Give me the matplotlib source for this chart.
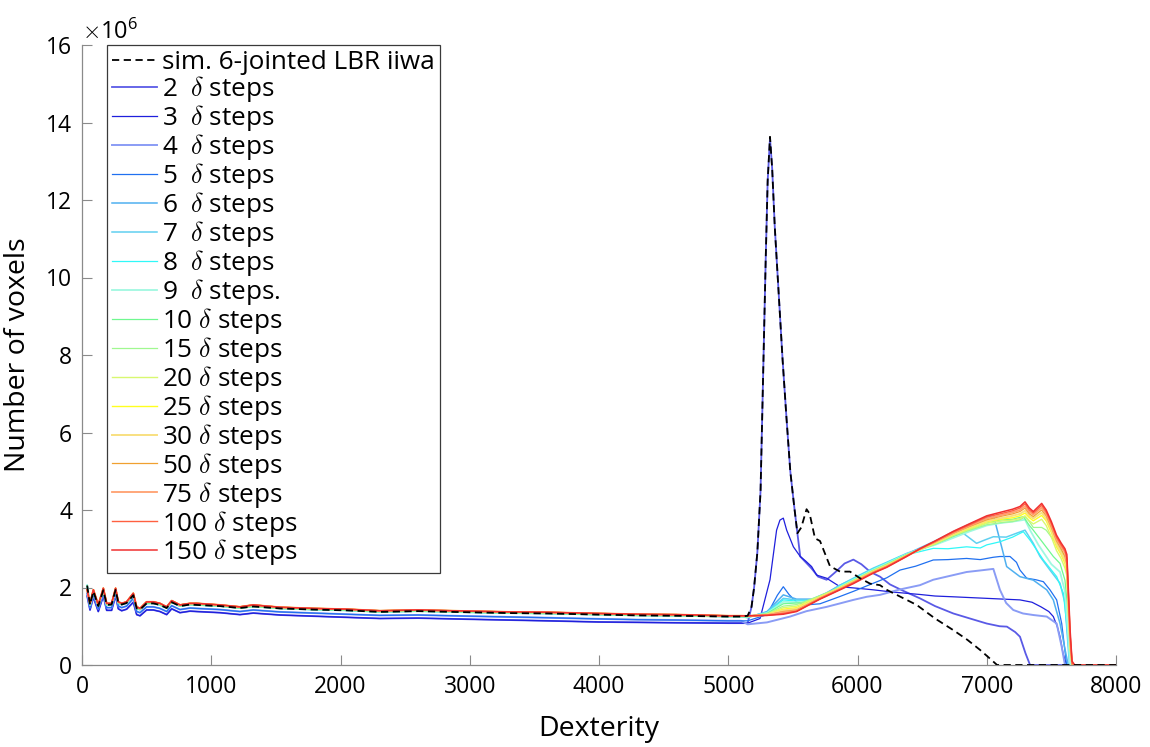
"""
Dexterity histograms: number of voxels per dexterity value for different delta step counts
"""
import numpy as np
import matplotlib.pyplot as plt

plt.rcParams['font.family'] = ['Open Sans', 'DejaVu Sans']
plt.rcParams['mathtext.fontset'] = 'cm'

AXIS_GREY = '#8a8a8a'

## Left part of the curves (dexterity 40 - 5100), shared by groups of curves.  Values in 1e6 voxels
LEFT_X = [40, 62, 88, 126, 165, 191, 229, 260, 281, 307, 345, 397, 423, 449, 500, 552, 603, 655, 694,
          758, 836, 887, 1068, 1222, 1325, 1532, 1790, 2048, 2306, 2600, 3000, 3300, 3600, 4000, 4300,
          4600, 5000, 5100]
LEFT_TOP = [1.94, 1.59, 1.94, 1.55, 1.98, 1.59, 1.59, 1.98, 1.63, 1.59, 1.63, 1.85, 1.50, 1.46, 1.63,
            1.63, 1.59, 1.50, 1.66, 1.55, 1.59, 1.59, 1.55, 1.50, 1.55, 1.49, 1.46, 1.44, 1.40, 1.42,
            1.39, 1.37, 1.36, 1.33, 1.31, 1.30, 1.27, 1.27]
LEFT_MID = [2.05, 1.55, 1.90, 1.52, 1.93, 1.55, 1.56, 1.94, 1.60, 1.56, 1.60, 1.80, 1.46, 1.43, 1.59,
            1.59, 1.55, 1.47, 1.62, 1.52, 1.56, 1.55, 1.52, 1.47, 1.51, 1.46, 1.43, 1.41, 1.37, 1.39,
            1.36, 1.34, 1.33, 1.30, 1.28, 1.27, 1.25, 1.25]
LEFT_LOW = [1.85, 1.48, 1.82, 1.45, 1.85, 1.48, 1.48, 1.85, 1.52, 1.48, 1.52, 1.72, 1.38, 1.35, 1.50,
            1.50, 1.46, 1.38, 1.53, 1.43, 1.47, 1.46, 1.43, 1.38, 1.42, 1.37, 1.34, 1.31, 1.28, 1.29,
            1.26, 1.24, 1.22, 1.19, 1.17, 1.16, 1.14, 1.14]
LEFT_BOTTOM = [1.78, 1.42, 1.75, 1.38, 1.78, 1.41, 1.41, 1.78, 1.45, 1.40, 1.44, 1.62, 1.30, 1.27, 1.42,
               1.42, 1.38, 1.30, 1.45, 1.35, 1.39, 1.38, 1.35, 1.30, 1.34, 1.29, 1.26, 1.23, 1.20, 1.21,
               1.18, 1.16, 1.14, 1.11, 1.10, 1.09, 1.08, 1.08]

## Simulated 6-jointed LBR iiwa (right part)
SIM_X = [5150, 5180, 5200, 5225, 5250, 5270, 5290, 5305, 5323, 5340, 5360, 5390, 5420, 5450, 5480, 5510,
         5535, 5565, 5606, 5630, 5671, 5710, 5787, 5865, 5942, 6019, 6097, 6174, 6226, 6303, 6458, 6600,
         6741, 6850, 6948, 7030, 7080, 7500, 8000]
SIM_Y = [1.27, 1.5, 2.0, 2.9, 4.5, 7.5, 10.5, 12.5, 13.63, 12.8, 11.3, 9.6, 7.9, 6.4, 5.0, 4.1,
         3.4, 3.55, 4.02, 3.9, 3.27, 3.2, 2.55, 2.41, 2.41, 2.24, 2.1, 2.06, 1.94, 1.81, 1.55, 1.2,
         0.9, 0.65, 0.39, 0.15, 0.0, 0.0, 0.0]

## Right parts of the delta step curves
X2 = [5150, 5180, 5200, 5225, 5250, 5270, 5290, 5305, 5323, 5340, 5360, 5390, 5420, 5450, 5480, 5510,
      5535, 5557, 5594, 5645, 5695, 5761, 5830, 5900, 5968, 6030, 6100, 6174, 6251, 6350, 6483, 6600,
      6741, 6870, 7000, 7100, 7156, 7220, 7257, 7300, 7335, 8000]
Y2 = [1.08, 1.5, 2.0, 2.9, 4.5, 7.5, 10.5, 12.5, 13.6, 12.8, 11.3, 9.6, 7.9, 6.4, 5.0, 4.1,
      3.4, 2.8, 2.67, 2.49, 2.28, 2.2, 2.4, 2.62, 2.72, 2.6, 2.4, 2.28, 2.08, 1.92, 1.72, 1.52,
      1.33, 1.2, 1.07, 1.0, 0.99, 0.85, 0.73, 0.3, 0.0, 0.0]
X3 = [5150, 5246, 5323, 5374, 5400, 5426, 5452, 5504, 5557, 5600, 5645, 5684, 5761, 5865, 6000, 6122,
      6251, 6380, 6483, 6600, 6741, 6870, 7000, 7130, 7257, 7350, 7420, 7480, 7515, 7545, 7567, 7590,
      7618, 8000]
Y3 = [1.08, 1.2, 2.2, 3.48, 3.74, 3.79, 3.48, 3.05, 2.8, 2.68, 2.54, 2.32, 2.24, 2.02, 1.98, 1.94,
      1.89, 1.85, 1.82, 1.78, 1.76, 1.74, 1.72, 1.70, 1.68, 1.62, 1.5, 1.38, 1.25, 1.0, 0.73, 0.3,
      0.0, 0.0]
X4 = [5150, 5300, 5478, 5606, 5761, 5865, 5968, 6071, 6174, 6329, 6483, 6586, 6741, 6844, 6950, 7051,
      7102, 7150, 7205, 7280, 7360, 7464, 7541, 7580, 7605, 8000]
Y4 = [1.05, 1.1, 1.25, 1.39, 1.5, 1.59, 1.68, 1.76, 1.81, 1.95, 2.06, 2.2, 2.32, 2.4, 2.44, 2.48,
      1.94, 1.6, 1.42, 1.33, 1.29, 1.25, 1.07, 0.47, 0.0, 0.0]
X5 = [5150, 5300, 5380, 5426, 5470, 5530, 5600, 5710, 5850, 5968, 6100, 6226, 6329, 6450, 6586, 6700,
      6844, 6950, 7050, 7102, 7180, 7230, 7257, 7309, 7380, 7438, 7489, 7541, 7580, 7618, 8000]
Y5 = [1.14, 1.3, 1.8, 2.02, 1.82, 1.62, 1.55, 1.58, 1.75, 1.9, 2.08, 2.25, 2.45, 2.55, 2.71, 2.72,
      2.75, 2.72, 2.78, 2.8, 2.8, 2.65, 2.45, 2.24, 2.2, 2.15, 1.94, 1.68, 1.07, 0.0, 0.0]
X6 = [5150, 5300, 5426, 5529, 5650, 5760, 5865, 5968, 6122, 6226, 6380, 6483, 6600, 6741, 6870, 7000,
      7051, 7115, 7154, 7257, 7360, 7464, 7515, 7567, 7600, 7630, 8000]
Y6 = [1.22, 1.38, 1.81, 1.7, 1.7, 1.86, 2.06, 2.22, 2.48, 2.62, 2.86, 3.02, 3.2, 3.44, 3.64, 3.82,
      3.87, 3.05, 2.54, 2.28, 2.19, 1.94, 1.68, 1.07, 0.5, 0.0, 0.0]
X7 = [5150, 5300, 5426, 5529, 5650, 5760, 5865, 5968, 6122, 6226, 6380, 6483, 6600, 6741, 6818, 6921,
      6980, 7051, 7150, 7230, 7296, 7360, 7412, 7489, 7567, 7605, 7640, 8000]
Y7 = [1.24, 1.36, 1.72, 1.68, 1.68, 1.84, 2.06, 2.24, 2.5, 2.65, 2.88, 3.0, 3.15, 3.33, 3.4, 3.14,
      3.22, 3.31, 3.3, 3.4, 3.48, 3.14, 2.8, 2.45, 2.11, 1.6, 0.0, 0.0]
X8 = [5150, 5300, 5426, 5529, 5650, 5760, 5865, 5968, 6122, 6226, 6329, 6450, 6586, 6700, 6844, 6950,
      7000, 7102, 7200, 7283, 7340, 7438, 7541, 7593, 7620, 7645, 8000]
Y8 = [1.24, 1.35, 1.68, 1.65, 1.66, 1.82, 2.04, 2.22, 2.48, 2.64, 2.8, 2.9, 3.01, 3.0, 3.05, 3.02,
      3.1, 3.18, 3.3, 3.44, 3.2, 2.71, 2.28, 1.85, 1.0, 0.0, 0.0]
X9 = [5150, 5300, 5426, 5529, 5650, 5760, 5865, 5968, 6122, 6226, 6380, 6483, 6600, 6741, 6870, 7000,
      7100, 7200, 7296, 7340, 7400, 7450, 7500, 7567, 7605, 7625, 7645, 8000]
Y9 = [1.24, 1.34, 1.63, 1.62, 1.64, 1.8, 2.02, 2.2, 2.46, 2.62, 2.86, 2.98, 3.1, 3.28, 3.45, 3.6,
      3.66, 3.7, 3.75, 3.45, 3.1, 2.85, 2.6, 2.4, 1.9, 1.0, 0.0, 0.0]
X10 = [5150, 5300, 5426, 5529, 5650, 5760, 5865, 5968, 6122, 6226, 6380, 6483, 6600, 6741, 6870, 7000,
       7102, 7200, 7283, 7330, 7360, 7438, 7515, 7567, 7605, 7631, 7660, 8000]
Y10 = [1.24, 1.33, 1.58, 1.60, 1.62, 1.78, 2.0, 2.18, 2.44, 2.6, 2.85, 2.98, 3.12, 3.32, 3.5, 3.66,
       3.74, 3.76, 3.83, 3.6, 3.48, 3.14, 2.80, 2.62, 2.19, 1.33, 0.0, 0.0]

## Finer step counts share one x grid on the right
X_WARM = [5150, 5300, 5426, 5529, 5710, 5865, 5968, 6122, 6226, 6380, 6483, 6600, 6741, 6870, 7000,
          7128, 7200, 7257, 7296, 7330, 7360, 7425, 7460, 7500, 7540, 7575, 7605, 7620, 7632, 7645,
          7660, 7680, 8000]
Y15 = [1.25, 1.32, 1.52, 1.56, 1.79, 2.01, 2.18, 2.44, 2.59, 2.84, 2.97, 3.12, 3.33, 3.48, 3.62,
       3.68, 3.70, 3.75, 3.82, 3.70, 3.55, 3.55, 3.48, 3.30, 3.14, 2.95, 2.80, 2.50, 1.30, 0.40,
       0.0, 0.0, 0.0]
Y20 = [1.26, 1.31, 1.48, 1.52, 1.77, 2.00, 2.17, 2.43, 2.58, 2.83, 2.97, 3.13, 3.35, 3.51, 3.66,
       3.72, 3.74, 3.78, 3.85, 3.72, 3.64, 3.76, 3.60, 3.30, 2.95, 2.75, 2.50, 2.30, 1.30, 0.45,
       0.0, 0.0, 0.0]
Y25 = [1.26, 1.30, 1.44, 1.48, 1.75, 1.99, 2.16, 2.42, 2.57, 2.83, 2.98, 3.15, 3.37, 3.54, 3.70,
       3.77, 3.80, 3.85, 3.92, 3.80, 3.72, 3.86, 3.72, 3.42, 3.05, 2.85, 2.62, 2.40, 1.40, 0.50,
       0.0, 0.0, 0.0]
Y30 = [1.26, 1.30, 1.41, 1.45, 1.74, 1.98, 2.15, 2.41, 2.56, 2.82, 2.98, 3.16, 3.38, 3.56, 3.72,
       3.80, 3.85, 3.90, 3.98, 3.85, 3.78, 3.93, 3.78, 3.48, 3.12, 2.90, 2.70, 2.50, 1.50, 0.55,
       0.0, 0.0, 0.0]
Y50 = [1.26, 1.29, 1.38, 1.42, 1.73, 1.97, 2.14, 2.40, 2.55, 2.82, 2.99, 3.17, 3.40, 3.58, 3.75,
       3.85, 3.90, 3.96, 4.05, 3.90, 3.83, 4.00, 3.85, 3.55, 3.20, 3.00, 2.80, 2.60, 1.60, 0.60,
       0.0, 0.0, 0.0]
Y75 = [1.27, 1.29, 1.36, 1.40, 1.72, 1.96, 2.13, 2.39, 2.54, 2.81, 2.99, 3.18, 3.41, 3.60, 3.78,
       3.88, 3.94, 4.00, 4.10, 3.95, 3.88, 4.06, 3.90, 3.60, 3.25, 3.05, 2.90, 2.65, 1.70, 0.70,
       0.05, 0.0, 0.0]
Y100 = [1.27, 1.28, 1.33, 1.39, 1.71, 1.95, 2.12, 2.38, 2.53, 2.81, 3.00, 3.19, 3.43, 3.62, 3.82,
        3.92, 3.98, 4.05, 4.16, 4.00, 3.92, 4.12, 3.95, 3.65, 3.30, 3.10, 2.95, 2.75, 1.80, 0.80,
        0.05, 0.0, 0.0]
Y150 = [1.27, 1.28, 1.31, 1.38, 1.70, 1.94, 2.10, 2.37, 2.52, 2.80, 3.00, 3.20, 3.45, 3.65, 3.85,
        3.96, 4.02, 4.09, 4.21, 4.05, 3.96, 4.17, 4.00, 3.70, 3.35, 3.15, 3.00, 2.85, 1.90, 0.90,
        0.10, 0.0, 0.0]

STEPS = [2, 3, 4, 5, 6, 7, 8, 9, 10, 15, 20, 25, 30, 50, 75, 100, 150]
COLORS = ['#5a5ae6', '#1f1fdc', '#8a9cf5', '#2070f0', '#50b0f0', '#60d0f0', '#30f8f8', '#a0f8e0',
          '#70f890', '#a0f890', '#d8f870', '#ffff20', '#f8e080', '#f0a030', '#ffa070', '#ff6040',
          '#f03030']
WIDTHS = [1.3, 0.9, 1.4, 0.9, 1.1, 1.1, 0.9, 1.3, 0.9, 0.9, 1.0, 1.0, 1.4, 0.9, 1.3, 1.0, 1.1]


def main():
    lefts = [LEFT_BOTTOM, LEFT_BOTTOM, LEFT_LOW, LEFT_LOW, LEFT_MID, LEFT_MID, LEFT_MID, LEFT_MID,
             LEFT_MID, LEFT_TOP, LEFT_TOP, LEFT_TOP, LEFT_TOP, LEFT_TOP, LEFT_TOP, LEFT_TOP, LEFT_TOP]
    rights = [(X2, Y2), (X3, Y3), (X4, Y4), (X5, Y5), (X6, Y6), (X7, Y7), (X8, Y8), (X9, Y9),
              (X10, Y10), (X_WARM, Y15), (X_WARM, Y20), (X_WARM, Y25), (X_WARM, Y30),
              (X_WARM, Y50), (X_WARM, Y75), (X_WARM, Y100), (X_WARM, Y150)]

    fig = plt.figure(figsize=(11.5, 7.47), dpi=100)
    ax = fig.add_axes([82/1150, 1 - 665/747, (1116-82)/1150, (665-45)/747])

    handles = []
    for n, c, lw, left, (rx, ry) in zip(STEPS, COLORS, WIDTHS, lefts, rights):
        label = f"{n}  $\\delta$ steps" if n < 10 else f"{n} $\\delta$ steps"
        if n == 9:
            label = label + "."
        h, = ax.plot(LEFT_X + rx, left + ry, color=c, lw=lw, label=label)
        handles.append(h)

    sim, = ax.plot(LEFT_X + SIM_X, LEFT_MID + SIM_Y, color='black', lw=1.3,
                   linestyle=(0, (4, 2.5)), label="sim. 6-jointed LBR iiwa", zorder=5)

    ax.set_xlim(0, 8000)
    ax.set_ylim(0, 16)
    ax.set_xticks(np.arange(0, 8001, 1000))
    ax.set_yticks(np.arange(0, 17, 2))
    ax.tick_params(direction='in', length=7, width=0.8, color=AXIS_GREY, labelsize=16.5, pad=7)
    for side in ['top', 'right']:
        ax.spines[side].set_visible(False)
    for side in ['left', 'bottom']:
        ax.spines[side].set_color(AXIS_GREY)
        ax.spines[side].set_linewidth(0.9)

    ax.set_xlabel("Dexterity", fontsize=20.5, labelpad=12)
    ax.set_ylabel("Number of voxels", fontsize=20.5, labelpad=10)
    ax.text(0.0, 1.0, r"$\times\mathregular{10^{6}}$", transform=ax.transAxes, fontsize=17,
            ha='left', va='bottom')

    leg = ax.legend([sim] + handles, [sim.get_label()] + [h.get_label() for h in handles],
                    loc='upper left', bbox_to_anchor=(25/1034, 1.0), borderaxespad=0,
                    fontsize=18.8, frameon=True, fancybox=False, framealpha=1,
                    handlelength=1.7, handletextpad=0.2, labelspacing=-0.04, borderpad=0.2)
    leg.get_frame().set_edgecolor('#3a3a3a')
    leg.get_frame().set_linewidth(0.9)

    fig.savefig("out.png", dpi=100)
    plt.close(fig)


if __name__ == "__main__":
    main()
